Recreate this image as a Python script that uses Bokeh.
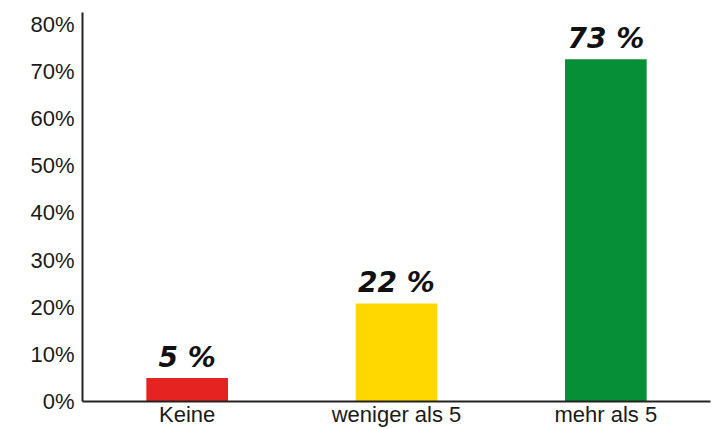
from bokeh.plotting import figure
from bokeh.models import ColumnDataSource, Range1d, FixedTicker, FactorRange
from bokeh.core.properties import value
from bokeh.embed import file_html
from bokeh.resources import INLINE

categories = ["Keine", "weniger als 5", "mehr als 5"]
bar_values = [5, 20.8, 72.6]
bar_labels = ["5 %", "22 %", "73 %"]
bar_colors = ["#e52421", "#ffd800", "#068f36"]
y_ticks = [0, 10, 20, 30, 40, 50, 60, 70, 80]
y_tick_labels = ["0%", "10%", "20%", "30%", "40%", "50%", "60%", "70%", "80%"]

src = ColumnDataSource(dict(cat=categories, val=bar_values, lab=bar_labels, col=bar_colors))

p = figure(x_range=FactorRange(*categories, range_padding=0), y_range=Range1d(0, 82.5),
           width=712, height=429, output_backend="svg", toolbar_location=None,
           min_border_left=82, min_border_right=2, min_border_top=12, min_border_bottom=10)
p.outline_line_color = None
p.xgrid.visible = False
p.ygrid.visible = False
p.background_fill_color = "white"
p.border_fill_color = "white"

p.vbar(x="cat", top="val", width=0.39, color="col", line_color=None, source=src)
p.text(x="cat", y="val", text="lab", source=src, text_align="center", text_baseline="bottom",
       y_offset=-4, text_font=value("DejaVu Sans"), text_font_style="bold italic",
       text_font_size="28px", text_color="#111111")

p.yaxis.ticker = FixedTicker(ticks=y_ticks)
p.yaxis.major_label_overrides = {t: l for t, l in zip(y_ticks, y_tick_labels)}
for ax in (p.xaxis[0], p.yaxis[0]):
    ax.major_tick_line_color = None
    ax.minor_tick_line_color = None
    ax.major_tick_out = 0
    ax.major_tick_in = 0
    ax.axis_line_color = "#222222"
    ax.axis_line_width = 2
    ax.major_label_text_font = "Liberation Sans"
    ax.major_label_text_font_size = "22px"
    ax.major_label_text_color = "#1a1a1a"
    ax.major_label_standoff = 8
p.xaxis.major_label_standoff = 0

open("out.html", "w").write(file_html(p, INLINE))
